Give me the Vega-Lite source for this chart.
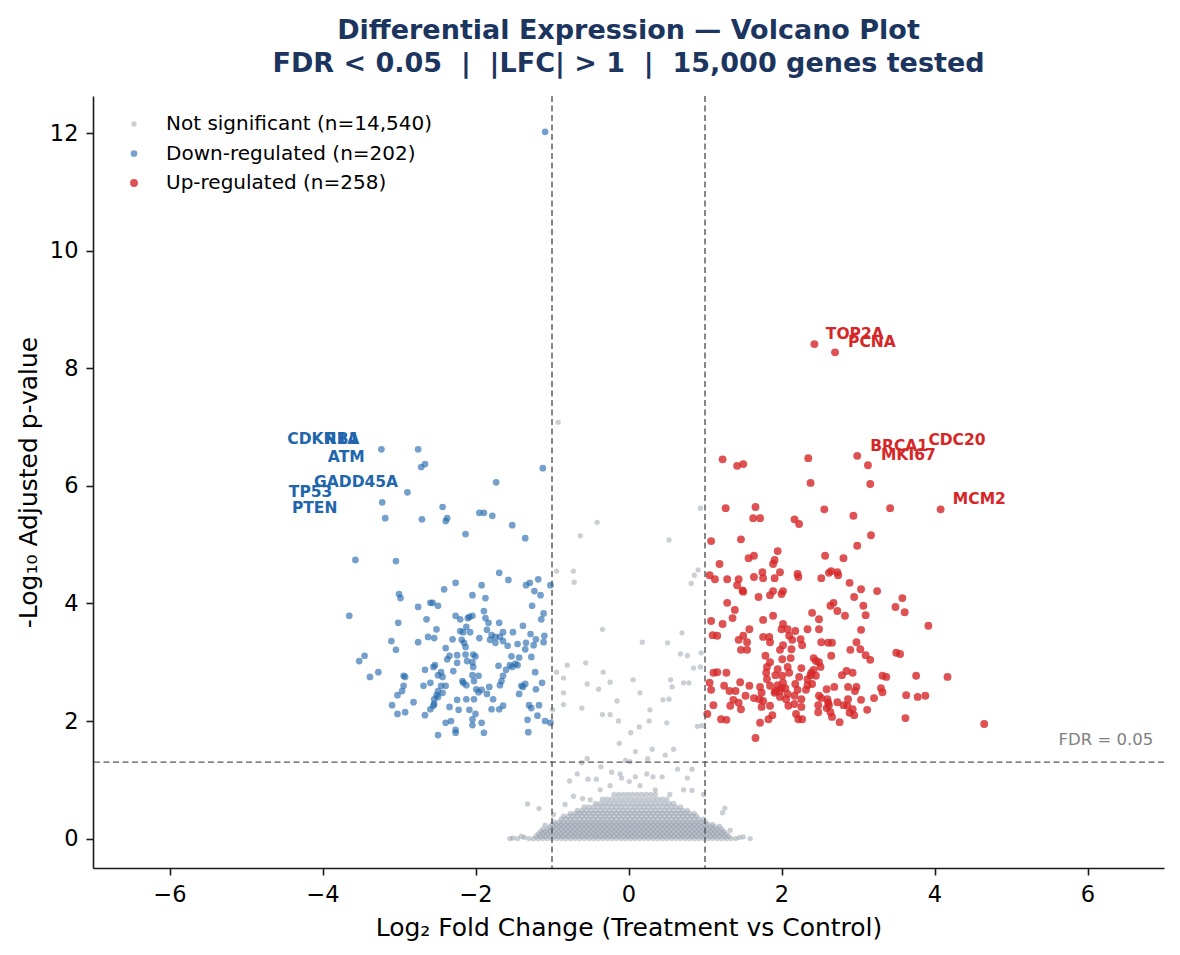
{
"$schema":"https://vega.github.io/schema/vega-lite/v6.json",
"width":1071,"height":772,
"autosize":{"type":"none"},
"padding":{"left":93,"top":96,"right":16,"bottom":87},
"background":"white",
"config":{"view":{"stroke":null},"font":"DejaVu Sans",
"axis":{"grid":false,"domainColor":"#1a1a1a","domainWidth":1.6,"tickColor":"#1a1a1a","tickWidth":1.6,"tickSize":7,"labelColor":"#000","labelFont":"DejaVu Sans","labelFontSize":22.5,"labelPadding":8,"titleColor":"#000","titleFont":"DejaVu Sans","titleFontSize":25,"titleFontWeight":"normal"},
"legend":{"title":null,"labelFont":"DejaVu Sans","labelFontSize":20,"labelColor":"#000","padding":0,"symbolType":"circle","symbolStrokeWidth":0,"labelLimit":500}},
"title":{"text":["Differential Expression — Volcano Plot","FDR < 0.05 \u00a0|\u00a0 |LFC| > 1 \u00a0|\u00a0 15,000 genes tested"],"font":"DejaVu Sans","fontSize":27,"fontWeight":"bold","color":"#1c355e","lineHeight":33,"anchor":"middle","frame":"group","offset":17},
"datasets":{
"labD":[
{"x":-4.46,"y":6.8,"gene":"CDKN1A"},{"x":-3.97,"y":6.8,"gene":"RB1"},{"x":-3.93,"y":6.49,"gene":"ATM"},{"x":-4.11,"y":6.07,"gene":"GADD45A"},{"x":-4.44,"y":5.9,"gene":"TP53"},{"x":-4.4,"y":5.63,"gene":"PTEN"}],
"labU":[
{"x":2.58,"y":8.58,"gene":"TOP2A"},{"x":2.87,"y":8.45,"gene":"PCNA"},{"x":3.16,"y":6.68,"gene":"BRCA1"},{"x":3.92,"y":6.78,"gene":"CDC20"},{"x":3.3,"y":6.53,"gene":"MKI67"},{"x":4.24,"y":5.78,"gene":"MCM2"}
],
"pts":[
{"x":-1.30,"y":0,"g":"n"},{"x":-1.24,"y":0,"g":"n"},{"x":-1.18,"y":0,"g":"n"},{"x":-1.12,"y":0,"g":"n"},{"x":-1.06,"y":0,"g":"n"},{"x":-1.00,"y":0,"g":"n"},{"x":-0.94,"y":0,"g":"n"},{"x":-0.88,"y":0,"g":"n"},{"x":-0.82,"y":0,"g":"n"},{"x":-0.76,"y":0,"g":"n"},{"x":-0.70,"y":0,"g":"n"},{"x":-0.64,"y":0,"g":"n"},{"x":-0.58,"y":0,"g":"n"},{"x":-0.52,"y":0,"g":"n"},{"x":-0.46,"y":0,"g":"n"},{"x":-0.40,"y":0,"g":"n"},{"x":-0.34,"y":0,"g":"n"},{"x":-0.28,"y":0,"g":"n"},{"x":-0.22,"y":0,"g":"n"},{"x":-0.16,"y":0,"g":"n"},{"x":-0.10,"y":0,"g":"n"},{"x":-0.04,"y":0,"g":"n"},{"x":0.02,"y":0,"g":"n"},{"x":0.08,"y":0,"g":"n"},{"x":0.14,"y":0,"g":"n"},{"x":0.20,"y":0,"g":"n"},{"x":0.26,"y":0,"g":"n"},{"x":0.32,"y":0,"g":"n"},{"x":0.38,"y":0,"g":"n"},{"x":0.44,"y":0,"g":"n"},{"x":0.50,"y":0,"g":"n"},{"x":0.56,"y":0,"g":"n"},{"x":0.62,"y":0,"g":"n"},{"x":0.68,"y":0,"g":"n"},{"x":0.74,"y":0,"g":"n"},{"x":0.80,"y":0,"g":"n"},{"x":0.86,"y":0,"g":"n"},{"x":0.92,"y":0,"g":"n"},{"x":0.98,"y":0,"g":"n"},{"x":1.04,"y":0,"g":"n"},{"x":1.10,"y":0,"g":"n"},{"x":1.16,"y":0,"g":"n"},{"x":1.22,"y":0,"g":"n"},{"x":1.28,"y":0,"g":"n"},{"x":1.34,"y":0,"g":"n"},{"x":1.40,"y":0,"g":"n"},
{"x":-1.21,"y":0.04,"g":"n"},{"x":-1.15,"y":0.04,"g":"n"},{"x":-1.09,"y":0.04,"g":"n"},{"x":-1.03,"y":0.04,"g":"n"},{"x":-0.97,"y":0.04,"g":"n"},{"x":-0.91,"y":0.04,"g":"n"},{"x":-0.85,"y":0.04,"g":"n"},{"x":-0.79,"y":0.04,"g":"n"},{"x":-0.73,"y":0.04,"g":"n"},{"x":-0.67,"y":0.04,"g":"n"},{"x":-0.61,"y":0.04,"g":"n"},{"x":-0.55,"y":0.04,"g":"n"},{"x":-0.49,"y":0.04,"g":"n"},{"x":-0.43,"y":0.04,"g":"n"},{"x":-0.37,"y":0.04,"g":"n"},{"x":-0.31,"y":0.04,"g":"n"},{"x":-0.25,"y":0.04,"g":"n"},{"x":-0.19,"y":0.04,"g":"n"},{"x":-0.13,"y":0.04,"g":"n"},{"x":-0.07,"y":0.04,"g":"n"},{"x":-0.01,"y":0.04,"g":"n"},{"x":0.05,"y":0.04,"g":"n"},{"x":0.11,"y":0.04,"g":"n"},{"x":0.17,"y":0.04,"g":"n"},{"x":0.23,"y":0.04,"g":"n"},{"x":0.29,"y":0.04,"g":"n"},{"x":0.35,"y":0.04,"g":"n"},{"x":0.41,"y":0.04,"g":"n"},{"x":0.47,"y":0.04,"g":"n"},{"x":0.53,"y":0.04,"g":"n"},{"x":0.59,"y":0.04,"g":"n"},{"x":0.65,"y":0.04,"g":"n"},{"x":0.71,"y":0.04,"g":"n"},{"x":0.77,"y":0.04,"g":"n"},{"x":0.83,"y":0.04,"g":"n"},{"x":0.89,"y":0.04,"g":"n"},{"x":0.95,"y":0.04,"g":"n"},{"x":1.01,"y":0.04,"g":"n"},{"x":1.07,"y":0.04,"g":"n"},{"x":1.13,"y":0.04,"g":"n"},{"x":1.19,"y":0.04,"g":"n"},{"x":1.25,"y":0.04,"g":"n"},{"x":1.31,"y":0.04,"g":"n"},
{"x":-1.18,"y":0.08,"g":"n"},{"x":-1.12,"y":0.08,"g":"n"},{"x":-1.06,"y":0.08,"g":"n"},{"x":-1.00,"y":0.08,"g":"n"},{"x":-0.94,"y":0.08,"g":"n"},{"x":-0.88,"y":0.08,"g":"n"},{"x":-0.82,"y":0.08,"g":"n"},{"x":-0.76,"y":0.08,"g":"n"},{"x":-0.70,"y":0.08,"g":"n"},{"x":-0.64,"y":0.08,"g":"n"},{"x":-0.58,"y":0.08,"g":"n"},{"x":-0.52,"y":0.08,"g":"n"},{"x":-0.46,"y":0.08,"g":"n"},{"x":-0.40,"y":0.08,"g":"n"},{"x":-0.34,"y":0.08,"g":"n"},{"x":-0.28,"y":0.08,"g":"n"},{"x":-0.22,"y":0.08,"g":"n"},{"x":-0.16,"y":0.08,"g":"n"},{"x":-0.10,"y":0.08,"g":"n"},{"x":-0.04,"y":0.08,"g":"n"},{"x":0.02,"y":0.08,"g":"n"},{"x":0.08,"y":0.08,"g":"n"},{"x":0.14,"y":0.08,"g":"n"},{"x":0.20,"y":0.08,"g":"n"},{"x":0.26,"y":0.08,"g":"n"},{"x":0.32,"y":0.08,"g":"n"},{"x":0.38,"y":0.08,"g":"n"},{"x":0.44,"y":0.08,"g":"n"},{"x":0.50,"y":0.08,"g":"n"},{"x":0.56,"y":0.08,"g":"n"},{"x":0.62,"y":0.08,"g":"n"},{"x":0.68,"y":0.08,"g":"n"},{"x":0.74,"y":0.08,"g":"n"},{"x":0.80,"y":0.08,"g":"n"},{"x":0.86,"y":0.08,"g":"n"},{"x":0.92,"y":0.08,"g":"n"},{"x":0.98,"y":0.08,"g":"n"},{"x":1.04,"y":0.08,"g":"n"},{"x":1.10,"y":0.08,"g":"n"},{"x":1.16,"y":0.08,"g":"n"},{"x":1.22,"y":0.08,"g":"n"},{"x":1.28,"y":0.08,"g":"n"},
{"x":-1.15,"y":0.12,"g":"n"},{"x":-1.09,"y":0.12,"g":"n"},{"x":-1.03,"y":0.12,"g":"n"},{"x":-0.97,"y":0.12,"g":"n"},{"x":-0.91,"y":0.12,"g":"n"},{"x":-0.85,"y":0.12,"g":"n"},{"x":-0.79,"y":0.12,"g":"n"},{"x":-0.73,"y":0.12,"g":"n"},{"x":-0.67,"y":0.12,"g":"n"},{"x":-0.61,"y":0.12,"g":"n"},{"x":-0.55,"y":0.12,"g":"n"},{"x":-0.49,"y":0.12,"g":"n"},{"x":-0.43,"y":0.12,"g":"n"},{"x":-0.37,"y":0.12,"g":"n"},{"x":-0.31,"y":0.12,"g":"n"},{"x":-0.25,"y":0.12,"g":"n"},{"x":-0.19,"y":0.12,"g":"n"},{"x":-0.13,"y":0.12,"g":"n"},{"x":-0.07,"y":0.12,"g":"n"},{"x":-0.01,"y":0.12,"g":"n"},{"x":0.05,"y":0.12,"g":"n"},{"x":0.11,"y":0.12,"g":"n"},{"x":0.17,"y":0.12,"g":"n"},{"x":0.23,"y":0.12,"g":"n"},{"x":0.29,"y":0.12,"g":"n"},{"x":0.35,"y":0.12,"g":"n"},{"x":0.41,"y":0.12,"g":"n"},{"x":0.47,"y":0.12,"g":"n"},{"x":0.53,"y":0.12,"g":"n"},{"x":0.59,"y":0.12,"g":"n"},{"x":0.65,"y":0.12,"g":"n"},{"x":0.71,"y":0.12,"g":"n"},{"x":0.77,"y":0.12,"g":"n"},{"x":0.83,"y":0.12,"g":"n"},{"x":0.89,"y":0.12,"g":"n"},{"x":0.95,"y":0.12,"g":"n"},{"x":1.01,"y":0.12,"g":"n"},{"x":1.07,"y":0.12,"g":"n"},{"x":1.13,"y":0.12,"g":"n"},{"x":1.19,"y":0.12,"g":"n"},{"x":1.25,"y":0.12,"g":"n"},
{"x":-1.12,"y":0.16,"g":"n"},{"x":-1.06,"y":0.16,"g":"n"},{"x":-1.00,"y":0.16,"g":"n"},{"x":-0.94,"y":0.16,"g":"n"},{"x":-0.88,"y":0.16,"g":"n"},{"x":-0.82,"y":0.16,"g":"n"},{"x":-0.76,"y":0.16,"g":"n"},{"x":-0.70,"y":0.16,"g":"n"},{"x":-0.64,"y":0.16,"g":"n"},{"x":-0.58,"y":0.16,"g":"n"},{"x":-0.52,"y":0.16,"g":"n"},{"x":-0.46,"y":0.16,"g":"n"},{"x":-0.40,"y":0.16,"g":"n"},{"x":-0.34,"y":0.16,"g":"n"},{"x":-0.28,"y":0.16,"g":"n"},{"x":-0.22,"y":0.16,"g":"n"},{"x":-0.16,"y":0.16,"g":"n"},{"x":-0.10,"y":0.16,"g":"n"},{"x":-0.04,"y":0.16,"g":"n"},{"x":0.02,"y":0.16,"g":"n"},{"x":0.08,"y":0.16,"g":"n"},{"x":0.14,"y":0.16,"g":"n"},{"x":0.20,"y":0.16,"g":"n"},{"x":0.26,"y":0.16,"g":"n"},{"x":0.32,"y":0.16,"g":"n"},{"x":0.38,"y":0.16,"g":"n"},{"x":0.44,"y":0.16,"g":"n"},{"x":0.50,"y":0.16,"g":"n"},{"x":0.56,"y":0.16,"g":"n"},{"x":0.62,"y":0.16,"g":"n"},{"x":0.68,"y":0.16,"g":"n"},{"x":0.74,"y":0.16,"g":"n"},{"x":0.80,"y":0.16,"g":"n"},{"x":0.86,"y":0.16,"g":"n"},{"x":0.92,"y":0.16,"g":"n"},{"x":0.98,"y":0.16,"g":"n"},{"x":1.04,"y":0.16,"g":"n"},{"x":1.10,"y":0.16,"g":"n"},{"x":1.16,"y":0.16,"g":"n"},{"x":1.22,"y":0.16,"g":"n"},
{"x":-1.03,"y":0.2,"g":"n"},{"x":-0.97,"y":0.2,"g":"n"},{"x":-0.91,"y":0.2,"g":"n"},{"x":-0.85,"y":0.2,"g":"n"},{"x":-0.79,"y":0.2,"g":"n"},{"x":-0.73,"y":0.2,"g":"n"},{"x":-0.67,"y":0.2,"g":"n"},{"x":-0.61,"y":0.2,"g":"n"},{"x":-0.55,"y":0.2,"g":"n"},{"x":-0.49,"y":0.2,"g":"n"},{"x":-0.43,"y":0.2,"g":"n"},{"x":-0.37,"y":0.2,"g":"n"},{"x":-0.31,"y":0.2,"g":"n"},{"x":-0.25,"y":0.2,"g":"n"},{"x":-0.19,"y":0.2,"g":"n"},{"x":-0.13,"y":0.2,"g":"n"},{"x":-0.07,"y":0.2,"g":"n"},{"x":-0.01,"y":0.2,"g":"n"},{"x":0.05,"y":0.2,"g":"n"},{"x":0.11,"y":0.2,"g":"n"},{"x":0.17,"y":0.2,"g":"n"},{"x":0.23,"y":0.2,"g":"n"},{"x":0.29,"y":0.2,"g":"n"},{"x":0.35,"y":0.2,"g":"n"},{"x":0.41,"y":0.2,"g":"n"},{"x":0.47,"y":0.2,"g":"n"},{"x":0.53,"y":0.2,"g":"n"},{"x":0.59,"y":0.2,"g":"n"},{"x":0.65,"y":0.2,"g":"n"},{"x":0.71,"y":0.2,"g":"n"},{"x":0.77,"y":0.2,"g":"n"},{"x":0.83,"y":0.2,"g":"n"},{"x":0.89,"y":0.2,"g":"n"},{"x":0.95,"y":0.2,"g":"n"},{"x":1.01,"y":0.2,"g":"n"},{"x":1.07,"y":0.2,"g":"n"},{"x":1.13,"y":0.2,"g":"n"},
{"x":-1.00,"y":0.24,"g":"n"},{"x":-0.94,"y":0.24,"g":"n"},{"x":-0.88,"y":0.24,"g":"n"},{"x":-0.82,"y":0.24,"g":"n"},{"x":-0.76,"y":0.24,"g":"n"},{"x":-0.70,"y":0.24,"g":"n"},{"x":-0.64,"y":0.24,"g":"n"},{"x":-0.58,"y":0.24,"g":"n"},{"x":-0.52,"y":0.24,"g":"n"},{"x":-0.46,"y":0.24,"g":"n"},{"x":-0.40,"y":0.24,"g":"n"},{"x":-0.34,"y":0.24,"g":"n"},{"x":-0.28,"y":0.24,"g":"n"},{"x":-0.22,"y":0.24,"g":"n"},{"x":-0.16,"y":0.24,"g":"n"},{"x":-0.10,"y":0.24,"g":"n"},{"x":-0.04,"y":0.24,"g":"n"},{"x":0.02,"y":0.24,"g":"n"},{"x":0.08,"y":0.24,"g":"n"},{"x":0.14,"y":0.24,"g":"n"},{"x":0.20,"y":0.24,"g":"n"},{"x":0.26,"y":0.24,"g":"n"},{"x":0.32,"y":0.24,"g":"n"},{"x":0.38,"y":0.24,"g":"n"},{"x":0.44,"y":0.24,"g":"n"},{"x":0.50,"y":0.24,"g":"n"},{"x":0.56,"y":0.24,"g":"n"},{"x":0.62,"y":0.24,"g":"n"},{"x":0.68,"y":0.24,"g":"n"},{"x":0.74,"y":0.24,"g":"n"},{"x":0.80,"y":0.24,"g":"n"},{"x":0.86,"y":0.24,"g":"n"},{"x":0.92,"y":0.24,"g":"n"},{"x":0.98,"y":0.24,"g":"n"},{"x":1.04,"y":0.24,"g":"n"},{"x":1.10,"y":0.24,"g":"n"},
{"x":-0.97,"y":0.28,"g":"n"},{"x":-0.91,"y":0.28,"g":"n"},{"x":-0.85,"y":0.28,"g":"n"},{"x":-0.79,"y":0.28,"g":"n"},{"x":-0.73,"y":0.28,"g":"n"},{"x":-0.67,"y":0.28,"g":"n"},{"x":-0.61,"y":0.28,"g":"n"},{"x":-0.55,"y":0.28,"g":"n"},{"x":-0.49,"y":0.28,"g":"n"},{"x":-0.43,"y":0.28,"g":"n"},{"x":-0.37,"y":0.28,"g":"n"},{"x":-0.31,"y":0.28,"g":"n"},{"x":-0.25,"y":0.28,"g":"n"},{"x":-0.19,"y":0.28,"g":"n"},{"x":-0.13,"y":0.28,"g":"n"},{"x":-0.07,"y":0.28,"g":"n"},{"x":-0.01,"y":0.28,"g":"n"},{"x":0.05,"y":0.28,"g":"n"},{"x":0.11,"y":0.28,"g":"n"},{"x":0.17,"y":0.28,"g":"n"},{"x":0.23,"y":0.28,"g":"n"},{"x":0.29,"y":0.28,"g":"n"},{"x":0.35,"y":0.28,"g":"n"},{"x":0.41,"y":0.28,"g":"n"},{"x":0.47,"y":0.28,"g":"n"},{"x":0.53,"y":0.28,"g":"n"},{"x":0.59,"y":0.28,"g":"n"},{"x":0.65,"y":0.28,"g":"n"},{"x":0.71,"y":0.28,"g":"n"},{"x":0.77,"y":0.28,"g":"n"},{"x":0.83,"y":0.28,"g":"n"},{"x":0.89,"y":0.28,"g":"n"},{"x":0.95,"y":0.28,"g":"n"},{"x":1.01,"y":0.28,"g":"n"},
{"x":-0.88,"y":0.33,"g":"n"},{"x":-0.82,"y":0.33,"g":"n"},{"x":-0.76,"y":0.33,"g":"n"},{"x":-0.70,"y":0.33,"g":"n"},{"x":-0.64,"y":0.33,"g":"n"},{"x":-0.58,"y":0.33,"g":"n"},{"x":-0.52,"y":0.33,"g":"n"},{"x":-0.46,"y":0.33,"g":"n"},{"x":-0.40,"y":0.33,"g":"n"},{"x":-0.34,"y":0.33,"g":"n"},{"x":-0.28,"y":0.33,"g":"n"},{"x":-0.22,"y":0.33,"g":"n"},{"x":-0.16,"y":0.33,"g":"n"},{"x":-0.10,"y":0.33,"g":"n"},{"x":-0.04,"y":0.33,"g":"n"},{"x":0.02,"y":0.33,"g":"n"},{"x":0.08,"y":0.33,"g":"n"},{"x":0.14,"y":0.33,"g":"n"},{"x":0.20,"y":0.33,"g":"n"},{"x":0.26,"y":0.33,"g":"n"},{"x":0.32,"y":0.33,"g":"n"},{"x":0.38,"y":0.33,"g":"n"},{"x":0.44,"y":0.33,"g":"n"},{"x":0.50,"y":0.33,"g":"n"},{"x":0.56,"y":0.33,"g":"n"},{"x":0.62,"y":0.33,"g":"n"},{"x":0.68,"y":0.33,"g":"n"},{"x":0.74,"y":0.33,"g":"n"},{"x":0.80,"y":0.33,"g":"n"},{"x":0.86,"y":0.33,"g":"n"},{"x":0.92,"y":0.33,"g":"n"},{"x":0.98,"y":0.33,"g":"n"},
{"x":-0.85,"y":0.38,"g":"n"},{"x":-0.79,"y":0.38,"g":"n"},{"x":-0.73,"y":0.38,"g":"n"},{"x":-0.67,"y":0.38,"g":"n"},{"x":-0.61,"y":0.38,"g":"n"},{"x":-0.55,"y":0.38,"g":"n"},{"x":-0.49,"y":0.38,"g":"n"},{"x":-0.43,"y":0.38,"g":"n"},{"x":-0.37,"y":0.38,"g":"n"},{"x":-0.31,"y":0.38,"g":"n"},{"x":-0.25,"y":0.38,"g":"n"},{"x":-0.19,"y":0.38,"g":"n"},{"x":-0.13,"y":0.38,"g":"n"},{"x":-0.07,"y":0.38,"g":"n"},{"x":-0.01,"y":0.38,"g":"n"},{"x":0.05,"y":0.38,"g":"n"},{"x":0.11,"y":0.38,"g":"n"},{"x":0.17,"y":0.38,"g":"n"},{"x":0.23,"y":0.38,"g":"n"},{"x":0.29,"y":0.38,"g":"n"},{"x":0.35,"y":0.38,"g":"n"},{"x":0.41,"y":0.38,"g":"n"},{"x":0.47,"y":0.38,"g":"n"},{"x":0.53,"y":0.38,"g":"n"},{"x":0.59,"y":0.38,"g":"n"},{"x":0.65,"y":0.38,"g":"n"},{"x":0.71,"y":0.38,"g":"n"},{"x":0.77,"y":0.38,"g":"n"},{"x":0.83,"y":0.38,"g":"n"},{"x":0.89,"y":0.38,"g":"n"},
{"x":-0.76,"y":0.43,"g":"n"},{"x":-0.70,"y":0.43,"g":"n"},{"x":-0.64,"y":0.43,"g":"n"},{"x":-0.58,"y":0.43,"g":"n"},{"x":-0.52,"y":0.43,"g":"n"},{"x":-0.46,"y":0.43,"g":"n"},{"x":-0.40,"y":0.43,"g":"n"},{"x":-0.34,"y":0.43,"g":"n"},{"x":-0.28,"y":0.43,"g":"n"},{"x":-0.22,"y":0.43,"g":"n"},{"x":-0.16,"y":0.43,"g":"n"},{"x":-0.10,"y":0.43,"g":"n"},{"x":-0.04,"y":0.43,"g":"n"},{"x":0.02,"y":0.43,"g":"n"},{"x":0.08,"y":0.43,"g":"n"},{"x":0.14,"y":0.43,"g":"n"},{"x":0.20,"y":0.43,"g":"n"},{"x":0.26,"y":0.43,"g":"n"},{"x":0.32,"y":0.43,"g":"n"},{"x":0.38,"y":0.43,"g":"n"},{"x":0.44,"y":0.43,"g":"n"},{"x":0.50,"y":0.43,"g":"n"},{"x":0.56,"y":0.43,"g":"n"},{"x":0.62,"y":0.43,"g":"n"},{"x":0.68,"y":0.43,"g":"n"},{"x":0.74,"y":0.43,"g":"n"},{"x":0.80,"y":0.43,"g":"n"},{"x":0.86,"y":0.43,"g":"n"},
{"x":-0.67,"y":0.48,"g":"n"},{"x":-0.61,"y":0.48,"g":"n"},{"x":-0.55,"y":0.48,"g":"n"},{"x":-0.49,"y":0.48,"g":"n"},{"x":-0.43,"y":0.48,"g":"n"},{"x":-0.37,"y":0.48,"g":"n"},{"x":-0.31,"y":0.48,"g":"n"},{"x":-0.25,"y":0.48,"g":"n"},{"x":-0.19,"y":0.48,"g":"n"},{"x":-0.13,"y":0.48,"g":"n"},{"x":-0.07,"y":0.48,"g":"n"},{"x":-0.01,"y":0.48,"g":"n"},{"x":0.05,"y":0.48,"g":"n"},{"x":0.11,"y":0.48,"g":"n"},{"x":0.17,"y":0.48,"g":"n"},{"x":0.23,"y":0.48,"g":"n"},{"x":0.29,"y":0.48,"g":"n"},{"x":0.35,"y":0.48,"g":"n"},{"x":0.41,"y":0.48,"g":"n"},{"x":0.47,"y":0.48,"g":"n"},{"x":0.53,"y":0.48,"g":"n"},{"x":0.59,"y":0.48,"g":"n"},{"x":0.65,"y":0.48,"g":"n"},{"x":0.71,"y":0.48,"g":"n"},{"x":0.77,"y":0.48,"g":"n"},
{"x":-0.58,"y":0.54,"g":"n"},{"x":-0.52,"y":0.54,"g":"n"},{"x":-0.46,"y":0.54,"g":"n"},{"x":-0.40,"y":0.54,"g":"n"},{"x":-0.34,"y":0.54,"g":"n"},{"x":-0.28,"y":0.54,"g":"n"},{"x":-0.22,"y":0.54,"g":"n"},{"x":-0.16,"y":0.54,"g":"n"},{"x":-0.10,"y":0.54,"g":"n"},{"x":-0.04,"y":0.54,"g":"n"},{"x":0.02,"y":0.54,"g":"n"},{"x":0.08,"y":0.54,"g":"n"},{"x":0.14,"y":0.54,"g":"n"},{"x":0.20,"y":0.54,"g":"n"},{"x":0.26,"y":0.54,"g":"n"},{"x":0.32,"y":0.54,"g":"n"},{"x":0.38,"y":0.54,"g":"n"},{"x":0.44,"y":0.54,"g":"n"},{"x":0.50,"y":0.54,"g":"n"},{"x":0.56,"y":0.54,"g":"n"},{"x":0.62,"y":0.54,"g":"n"},{"x":0.68,"y":0.54,"g":"n"},
{"x":-0.43,"y":0.6,"g":"n"},{"x":-0.37,"y":0.6,"g":"n"},{"x":-0.31,"y":0.6,"g":"n"},{"x":-0.25,"y":0.6,"g":"n"},{"x":-0.19,"y":0.6,"g":"n"},{"x":-0.13,"y":0.6,"g":"n"},{"x":-0.07,"y":0.6,"g":"n"},{"x":-0.01,"y":0.6,"g":"n"},{"x":0.05,"y":0.6,"g":"n"},{"x":0.11,"y":0.6,"g":"n"},{"x":0.17,"y":0.6,"g":"n"},{"x":0.23,"y":0.6,"g":"n"},{"x":0.29,"y":0.6,"g":"n"},{"x":0.35,"y":0.6,"g":"n"},{"x":0.41,"y":0.6,"g":"n"},{"x":0.47,"y":0.6,"g":"n"},{"x":0.53,"y":0.6,"g":"n"},{"x":0.59,"y":0.6,"g":"n"},
{"x":-0.34,"y":0.67,"g":"n"},{"x":-0.28,"y":0.67,"g":"n"},{"x":-0.22,"y":0.67,"g":"n"},{"x":-0.16,"y":0.67,"g":"n"},{"x":-0.10,"y":0.67,"g":"n"},{"x":-0.04,"y":0.67,"g":"n"},{"x":0.02,"y":0.67,"g":"n"},{"x":0.08,"y":0.67,"g":"n"},{"x":0.14,"y":0.67,"g":"n"},{"x":0.20,"y":0.67,"g":"n"},{"x":0.26,"y":0.67,"g":"n"},{"x":0.32,"y":0.67,"g":"n"},{"x":0.38,"y":0.67,"g":"n"},{"x":0.44,"y":0.67,"g":"n"},{"x":0.50,"y":0.67,"g":"n"},
{"x":-0.19,"y":0.75,"g":"n"},{"x":-0.13,"y":0.75,"g":"n"},{"x":-0.07,"y":0.75,"g":"n"},{"x":-0.01,"y":0.75,"g":"n"},{"x":0.05,"y":0.75,"g":"n"},{"x":0.11,"y":0.75,"g":"n"},{"x":0.17,"y":0.75,"g":"n"},{"x":0.23,"y":0.75,"g":"n"},{"x":0.29,"y":0.75,"g":"n"},{"x":0.35,"y":0.75,"g":"n"},
{"x":-1.55,"y":0,"g":"n"},{"x":-1.51,"y":0.01,"g":"n"},{"x":-1.45,"y":0,"g":"n"},{"x":-1.40,"y":0.04,"g":"n"},{"x":-1.36,"y":0.02,"g":"n"},{"x":1.45,"y":0.02,"g":"n"},{"x":1.50,"y":0.03,"g":"n"},{"x":1.59,"y":0,"g":"n"},
{"x":-0.92,"y":7.08,"g":"n"},{"x":-0.41,"y":5.38,"g":"n"},{"x":-0.63,"y":5.15,"g":"n"},{"x":0.53,"y":5.08,"g":"n"},{"x":-0.94,"y":4.55,"g":"n"},{"x":-0.72,"y":4.55,"g":"n"},{"x":-0.71,"y":4.36,"g":"n"},{"x":0.94,"y":5.62,"g":"n"},{"x":0.91,"y":4.57,"g":"n"},{"x":0.86,"y":4.48,"g":"n"},{"x":0.82,"y":4.34,"g":"n"},{"x":-0.34,"y":3.56,"g":"n"},{"x":0.18,"y":3.34,"g":"n"},{"x":0.51,"y":3.33,"g":"n"},{"x":0.70,"y":3.50,"g":"n"},{"x":0.68,"y":3.14,"g":"n"},{"x":0.77,"y":3.11,"g":"n"},{"x":0.95,"y":3.16,"g":"n"},{"x":0.85,"y":2.90,"g":"n"},{"x":0.94,"y":2.92,"g":"n"},{"x":-0.80,"y":2.95,"g":"n"},{"x":-0.56,"y":2.99,"g":"n"},{"x":-0.94,"y":2.83,"g":"n"},{"x":-0.85,"y":2.73,"g":"n"},{"x":-0.85,"y":2.48,"g":"n"},{"x":-0.33,"y":2.83,"g":"n"},{"x":-0.54,"y":2.63,"g":"n"},{"x":-0.39,"y":2.54,"g":"n"},{"x":-0.24,"y":2.66,"g":"n"},{"x":0.06,"y":2.70,"g":"n"},{"x":0.15,"y":2.48,"g":"n"},{"x":0.55,"y":2.70,"g":"n"},{"x":0.57,"y":2.58,"g":"n"},{"x":0.72,"y":2.65,"g":"n"},{"x":0.79,"y":2.65,"g":"n"},{"x":-0.85,"y":2.28,"g":"n"},{"x":-0.61,"y":2.22,"g":"n"},{"x":-0.15,"y":2.34,"g":"n"},{"x":-0.34,"y":2.11,"g":"n"},{"x":-0.24,"y":2.11,"g":"n"},{"x":-0.13,"y":2.00,"g":"n"},{"x":0.28,"y":2.19,"g":"n"},{"x":0.45,"y":2.36,"g":"n"},{"x":0.53,"y":2.37,"g":"n"},{"x":0.27,"y":2.00,"g":"n"},{"x":0.50,"y":1.97,"g":"n"},{"x":0.14,"y":1.90,"g":"n"},{"x":0.03,"y":1.80,"g":"n"},{"x":-0.12,"y":1.62,"g":"n"},{"x":0.90,"y":1.91,"g":"n"},{"x":0.96,"y":1.92,"g":"n"},{"x":0.09,"y":1.48,"g":"n"},{"x":0.31,"y":1.52,"g":"n"},{"x":0.48,"y":1.42,"g":"n"},{"x":0.59,"y":1.52,"g":"n"},{"x":0.25,"y":1.36,"g":"n"},{"x":-0.04,"y":1.33,"g":"n"},{"x":0.02,"y":1.31,"g":"n"},{"x":-0.54,"y":1.36,"g":"n"},{"x":-0.61,"y":1.29,"g":"n"},{"x":-0.99,"y":2.19,"g":"n"},
{"x":-0.36,"y":1.22,"g":"n"},{"x":-0.67,"y":1.10,"g":"n"},{"x":-0.53,"y":1.01,"g":"n"},{"x":-0.42,"y":1.01,"g":"n"},{"x":-0.77,"y":0.98,"g":"n"},{"x":-0.72,"y":0.72,"g":"n"},{"x":-0.60,"y":0.68,"g":"n"},{"x":-1.32,"y":0.59,"g":"n"},{"x":-1.17,"y":0.51,"g":"n"},{"x":-0.98,"y":0.41,"g":"n"},{"x":-0.22,"y":1.13,"g":"n"},{"x":-0.11,"y":1.10,"g":"n"},{"x":-0.09,"y":1.03,"g":"n"},{"x":0.01,"y":0.97,"g":"n"},{"x":0.09,"y":1.05,"g":"n"},{"x":0.24,"y":1.10,"g":"n"},{"x":0.32,"y":1.05,"g":"n"},{"x":0.44,"y":1.05,"g":"n"},{"x":0.64,"y":1.18,"g":"n"},{"x":0.83,"y":1.18,"g":"n"},{"x":0.77,"y":1.03,"g":"n"},{"x":0.72,"y":0.83,"g":"n"},{"x":0.83,"y":0.82,"g":"n"},{"x":0.98,"y":0.75,"g":"n"},{"x":1.26,"y":0.52,"g":"n"},{"x":1.23,"y":0.44,"g":"n"},{"x":1.19,"y":0.21,"g":"n"},{"x":1.33,"y":0.14,"g":"n"},{"x":-1.09,"y":0.23,"g":"n"},{"x":-0.37,"y":0.83,"g":"n"},{"x":-0.24,"y":0.90,"g":"n"},{"x":0.15,"y":0.90,"g":"n"},{"x":0.35,"y":0.83,"g":"n"},{"x":0.54,"y":0.75,"g":"n"},{"x":-0.50,"y":0.66,"g":"n"},{"x":-0.83,"y":0.58,"g":"n"},
{"x":-1.09,"y":12.02,"g":"d"},{"x":-3.23,"y":6.62,"g":"d"},{"x":-2.75,"y":6.62,"g":"d"},{"x":-2.71,"y":6.32,"g":"d"},{"x":-2.66,"y":6.37,"g":"d"},{"x":-1.12,"y":6.30,"g":"d"},{"x":-1.73,"y":6.06,"g":"d"},{"x":-2.89,"y":5.89,"g":"d"},{"x":-3.22,"y":5.72,"g":"d"},{"x":-2.43,"y":5.64,"g":"d"},{"x":-3.18,"y":5.45,"g":"d"},{"x":-2.70,"y":5.43,"g":"d"},{"x":-2.37,"y":5.45,"g":"d"},{"x":-2.39,"y":5.40,"g":"d"},{"x":-1.95,"y":5.54,"g":"d"},{"x":-1.89,"y":5.54,"g":"d"},{"x":-1.78,"y":5.49,"g":"d"},{"x":-2.13,"y":5.18,"g":"d"},{"x":-1.52,"y":5.33,"g":"d"},{"x":-1.35,"y":5.11,"g":"d"},{"x":-3.57,"y":4.74,"g":"d"},{"x":-3.04,"y":4.72,"g":"d"},{"x":-1.69,"y":4.52,"g":"d"},{"x":-1.57,"y":4.40,"g":"d"},{"x":-1.18,"y":4.41,"g":"d"},{"x":-1.29,"y":4.35,"g":"d"},{"x":-1.34,"y":4.31,"g":"d"},{"x":-1.02,"y":4.31,"g":"d"},{"x":-2.26,"y":4.35,"g":"d"},{"x":-2.41,"y":4.24,"g":"d"},{"x":-1.92,"y":4.31,"g":"d"},{"x":-2.04,"y":4.14,"g":"d"},{"x":-1.87,"y":4.09,"g":"d"},{"x":-1.23,"y":4.21,"g":"d"},{"x":-1.15,"y":4.14,"g":"d"},{"x":-3.00,"y":4.16,"g":"d"},{"x":-2.98,"y":4.09,"g":"d"},{"x":-2.59,"y":4.01,"g":"d"},{"x":-2.56,"y":4.01,"g":"d"},{"x":-2.49,"y":3.96,"g":"d"},{"x":-2.75,"y":3.94,"g":"d"},{"x":-1.26,"y":3.96,"g":"d"},{"x":-1.11,"y":3.83,"g":"d"},{"x":-1.14,"y":3.73,"g":"d"},{"x":-3.65,"y":3.79,"g":"d"},{"x":-3.01,"y":3.67,"g":"d"},{"x":-2.64,"y":3.73,"g":"d"},{"x":-2.26,"y":3.79,"g":"d"},{"x":-2.20,"y":3.73,"g":"d"},{"x":-2.10,"y":3.75,"g":"d"},{"x":-2.08,"y":3.77,"g":"d"},{"x":-2.04,"y":3.79,"g":"d"},{"x":-1.89,"y":3.87,"g":"d"},{"x":-1.87,"y":3.75,"g":"d"},{"x":-1.83,"y":3.67,"g":"d"},{"x":-1.69,"y":3.67,"g":"d"},{"x":-2.51,"y":3.56,"g":"d"},{"x":-2.12,"y":3.60,"g":"d"},{"x":-2.20,"y":3.53,"g":"d"},{"x":-2.16,"y":3.51,"g":"d"},{"x":-2.07,"y":3.51,"g":"d"},{"x":-1.85,"y":3.55,"g":"d"},{"x":-1.79,"y":3.46,"g":"d"},{"x":-1.74,"y":3.43,"g":"d"},{"x":-1.64,"y":3.51,"g":"d"},{"x":-1.68,"y":3.43,"g":"d"},{"x":-1.51,"y":3.51,"g":"d"},{"x":-1.38,"y":3.62,"g":"d"},{"x":-1.28,"y":3.48,"g":"d"},{"x":-1.21,"y":3.39,"g":"d"},{"x":-1.10,"y":3.45,"g":"d"},{"x":-3.10,"y":3.36,"g":"d"},{"x":-3.04,"y":3.21,"g":"d"},{"x":-2.75,"y":3.34,"g":"d"},{"x":-2.62,"y":3.43,"g":"d"},{"x":-2.54,"y":3.41,"g":"d"},{"x":-2.30,"y":3.39,"g":"d"},{"x":-2.18,"y":3.38,"g":"d"},{"x":-2.15,"y":3.33,"g":"d"},{"x":-2.13,"y":3.26,"g":"d"},{"x":-1.95,"y":3.41,"g":"d"},{"x":-1.81,"y":3.38,"g":"d"},{"x":-1.74,"y":3.33,"g":"d"},{"x":-1.64,"y":3.36,"g":"d"},{"x":-1.58,"y":3.28,"g":"d"},{"x":-1.45,"y":3.31,"g":"d"},{"x":-1.35,"y":3.22,"g":"d"},{"x":-1.34,"y":3.33,"g":"d"},{"x":-1.24,"y":3.29,"g":"d"},{"x":-1.11,"y":3.34,"g":"d"},{"x":-2.39,"y":3.24,"g":"d"},{"x":-2.24,"y":3.12,"g":"d"},{"x":-2.34,"y":3.11,"g":"d"},{"x":-2.37,"y":3.05,"g":"d"},{"x":-2.13,"y":3.13,"g":"d"},{"x":-2.03,"y":3.13,"g":"d"},{"x":-2.00,"y":3.10,"g":"d"},{"x":-2.11,"y":3.02,"g":"d"},{"x":-2.04,"y":3.00,"g":"d"},{"x":-2.03,"y":2.92,"g":"d"},{"x":-2.24,"y":2.99,"g":"d"},{"x":-1.53,"y":3.10,"g":"d"},{"x":-1.43,"y":3.08,"g":"d"},{"x":-1.55,"y":2.95,"g":"d"},{"x":-1.48,"y":2.97,"g":"d"},{"x":-1.52,"y":2.92,"g":"d"},{"x":-1.45,"y":2.95,"g":"d"},{"x":-1.27,"y":3.09,"g":"d"},{"x":-3.52,"y":3.02,"g":"d"},{"x":-3.45,"y":3.11,"g":"d"},{"x":-2.55,"y":2.92,"g":"d"},{"x":-2.53,"y":2.95,"g":"d"},{"x":-2.29,"y":2.85,"g":"d"},{"x":-2.66,"y":2.87,"g":"d"},{"x":-1.70,"y":2.94,"g":"d"},{"x":-1.60,"y":2.87,"g":"d"},{"x":-1.64,"y":2.77,"g":"d"},{"x":-1.66,"y":2.68,"g":"d"},{"x":-1.68,"y":2.61,"g":"d"},{"x":-1.22,"y":2.83,"g":"d"},{"x":-3.27,"y":2.83,"g":"d"},{"x":-3.38,"y":2.75,"g":"d"},{"x":-2.94,"y":2.77,"g":"d"},{"x":-2.92,"y":2.75,"g":"d"},{"x":-2.49,"y":2.78,"g":"d"},{"x":-2.45,"y":2.83,"g":"d"},{"x":-2.43,"y":2.75,"g":"d"},{"x":-2.04,"y":2.78,"g":"d"},{"x":-1.96,"y":2.77,"g":"d"},{"x":-2.02,"y":2.68,"g":"d"},{"x":-2.17,"y":2.68,"g":"d"},{"x":-2.16,"y":2.65,"g":"d"},{"x":-2.12,"y":2.61,"g":"d"},{"x":-1.13,"y":2.65,"g":"d"},{"x":-1.21,"y":2.54,"g":"d"},{"x":-1.35,"y":2.63,"g":"d"},{"x":-1.40,"y":2.60,"g":"d"},{"x":-1.38,"y":2.58,"g":"d"},{"x":-1.43,"y":2.46,"g":"d"},{"x":-2.94,"y":2.60,"g":"d"},{"x":-2.96,"y":2.51,"g":"d"},{"x":-3.02,"y":2.44,"g":"d"},{"x":-2.68,"y":2.60,"g":"d"},{"x":-2.59,"y":2.65,"g":"d"},{"x":-2.45,"y":2.60,"g":"d"},{"x":-2.39,"y":2.60,"g":"d"},{"x":-2.49,"y":2.51,"g":"d"},{"x":-2.43,"y":2.48,"g":"d"},{"x":-2.51,"y":2.44,"g":"d"},{"x":-2.49,"y":2.41,"g":"d"},{"x":-2.54,"y":2.37,"g":"d"},{"x":-1.99,"y":2.54,"g":"d"},{"x":-1.92,"y":2.53,"g":"d"},{"x":-1.96,"y":2.49,"g":"d"},{"x":-1.82,"y":2.58,"g":"d"},{"x":-1.85,"y":2.46,"g":"d"},{"x":-1.77,"y":2.37,"g":"d"},{"x":-2.24,"y":2.36,"g":"d"},{"x":-2.12,"y":2.37,"g":"d"},{"x":-2.02,"y":2.37,"g":"d"},{"x":-3.09,"y":2.27,"g":"d"},{"x":-3.02,"y":2.12,"g":"d"},{"x":-2.92,"y":2.15,"g":"d"},{"x":-2.81,"y":2.32,"g":"d"},{"x":-2.66,"y":2.10,"g":"d"},{"x":-2.59,"y":2.20,"g":"d"},{"x":-2.55,"y":2.26,"g":"d"},{"x":-2.54,"y":2.29,"g":"d"},{"x":-2.34,"y":2.24,"g":"d"},{"x":-2.22,"y":2.19,"g":"d"},{"x":-2.08,"y":2.19,"g":"d"},{"x":-2.00,"y":2.12,"g":"d"},{"x":-2.04,"y":2.03,"g":"d"},{"x":-1.79,"y":2.20,"g":"d"},{"x":-1.69,"y":2.20,"g":"d"},{"x":-1.64,"y":2.26,"g":"d"},{"x":-1.30,"y":2.27,"g":"d"},{"x":-1.27,"y":2.22,"g":"d"},{"x":-1.17,"y":2.27,"g":"d"},{"x":-1.19,"y":2.09,"g":"d"},{"x":-1.32,"y":2.02,"g":"d"},{"x":-1.09,"y":2.00,"g":"d"},{"x":-1.02,"y":1.97,"g":"d"},{"x":-2.39,"y":1.97,"g":"d"},{"x":-2.32,"y":2.00,"g":"d"},{"x":-2.26,"y":1.85,"g":"d"},{"x":-2.26,"y":1.80,"g":"d"},{"x":-2.49,"y":1.76,"g":"d"},{"x":-2.04,"y":1.93,"g":"d"},{"x":-1.92,"y":1.97,"g":"d"},{"x":-1.89,"y":1.80,"g":"d"},{"x":-1.31,"y":1.81,"g":"d"},
{"x":2.43,"y":8.41,"g":"u"},{"x":2.70,"y":8.27,"g":"u"},{"x":1.23,"y":6.45,"g":"u"},{"x":1.42,"y":6.34,"g":"u"},{"x":1.50,"y":6.37,"g":"u"},{"x":2.35,"y":6.47,"g":"u"},{"x":2.99,"y":6.51,"g":"u"},{"x":3.13,"y":6.35,"g":"u"},{"x":2.38,"y":6.05,"g":"u"},{"x":3.16,"y":6.03,"g":"u"},{"x":1.27,"y":5.62,"g":"u"},{"x":1.66,"y":5.64,"g":"u"},{"x":1.63,"y":5.45,"g":"u"},{"x":1.72,"y":5.45,"g":"u"},{"x":2.56,"y":5.60,"g":"u"},{"x":2.94,"y":5.49,"g":"u"},{"x":3.42,"y":5.62,"g":"u"},{"x":4.08,"y":5.60,"g":"u"},{"x":2.17,"y":5.43,"g":"u"},{"x":2.23,"y":5.35,"g":"u"},{"x":1.08,"y":5.06,"g":"u"},{"x":1.47,"y":5.09,"g":"u"},{"x":3.17,"y":5.16,"g":"u"},{"x":2.99,"y":4.98,"g":"u"},{"x":1.95,"y":4.89,"g":"u"},{"x":1.57,"y":4.77,"g":"u"},{"x":1.64,"y":4.81,"g":"u"},{"x":1.91,"y":4.74,"g":"u"},{"x":1.89,"y":4.67,"g":"u"},{"x":2.57,"y":4.81,"g":"u"},{"x":2.81,"y":4.77,"g":"u"},{"x":1.19,"y":4.67,"g":"u"},{"x":1.06,"y":4.48,"g":"u"},{"x":1.13,"y":4.41,"g":"u"},{"x":1.29,"y":4.41,"g":"u"},{"x":1.44,"y":4.41,"g":"u"},{"x":1.42,"y":4.31,"g":"u"},{"x":1.49,"y":4.22,"g":"u"},{"x":1.50,"y":4.20,"g":"u"},{"x":1.64,"y":4.45,"g":"u"},{"x":1.75,"y":4.53,"g":"u"},{"x":1.76,"y":4.43,"g":"u"},{"x":1.91,"y":4.43,"g":"u"},{"x":1.98,"y":4.53,"g":"u"},{"x":2.21,"y":4.50,"g":"u"},{"x":2.22,"y":4.45,"g":"u"},{"x":2.52,"y":4.43,"g":"u"},{"x":2.62,"y":4.52,"g":"u"},{"x":2.65,"y":4.55,"g":"u"},{"x":2.73,"y":4.53,"g":"u"},{"x":2.74,"y":4.48,"g":"u"},{"x":2.89,"y":4.35,"g":"u"},{"x":3.04,"y":4.24,"g":"u"},{"x":3.25,"y":4.21,"g":"u"},{"x":3.58,"y":4.09,"g":"u"},{"x":1.70,"y":4.11,"g":"u"},{"x":1.85,"y":4.14,"g":"u"},{"x":1.89,"y":4.21,"g":"u"},{"x":2.02,"y":4.21,"g":"u"},{"x":2.00,"y":4.16,"g":"u"},{"x":2.95,"y":4.11,"g":"u"},{"x":1.29,"y":4.01,"g":"u"},{"x":1.39,"y":3.89,"g":"u"},{"x":1.36,"y":3.75,"g":"u"},{"x":1.76,"y":3.72,"g":"u"},{"x":1.89,"y":3.79,"g":"u"},{"x":2.64,"y":3.96,"g":"u"},{"x":2.68,"y":4.01,"g":"u"},{"x":2.73,"y":3.87,"g":"u"},{"x":2.83,"y":3.79,"g":"u"},{"x":3.07,"y":3.96,"g":"u"},{"x":3.10,"y":3.80,"g":"u"},{"x":2.40,"y":3.84,"g":"u"},{"x":2.49,"y":3.73,"g":"u"},{"x":3.49,"y":3.94,"g":"u"},{"x":3.61,"y":3.85,"g":"u"},{"x":1.08,"y":3.70,"g":"u"},{"x":1.23,"y":3.65,"g":"u"},{"x":1.10,"y":3.46,"g":"u"},{"x":1.16,"y":3.45,"g":"u"},{"x":1.58,"y":3.56,"g":"u"},{"x":1.44,"y":3.38,"g":"u"},{"x":1.50,"y":3.45,"g":"u"},{"x":1.55,"y":3.34,"g":"u"},{"x":1.47,"y":3.21,"g":"u"},{"x":1.55,"y":3.21,"g":"u"},{"x":1.76,"y":3.43,"g":"u"},{"x":1.84,"y":3.43,"g":"u"},{"x":1.85,"y":3.34,"g":"u"},{"x":2.00,"y":3.56,"g":"u"},{"x":2.02,"y":3.65,"g":"u"},{"x":2.08,"y":3.56,"g":"u"},{"x":2.18,"y":3.53,"g":"u"},{"x":1.98,"y":3.21,"g":"u"},{"x":2.02,"y":3.29,"g":"u"},{"x":2.10,"y":3.45,"g":"u"},{"x":2.14,"y":3.38,"g":"u"},{"x":2.13,"y":3.22,"g":"u"},{"x":2.12,"y":3.07,"g":"u"},{"x":2.01,"y":3.05,"g":"u"},{"x":2.25,"y":3.39,"g":"u"},{"x":2.27,"y":3.29,"g":"u"},{"x":2.34,"y":3.56,"g":"u"},{"x":2.49,"y":3.56,"g":"u"},{"x":2.52,"y":3.34,"g":"u"},{"x":2.61,"y":3.33,"g":"u"},{"x":2.66,"y":3.33,"g":"u"},{"x":2.90,"y":3.21,"g":"u"},{"x":2.98,"y":3.34,"g":"u"},{"x":3.03,"y":3.22,"g":"u"},{"x":3.04,"y":3.55,"g":"u"},{"x":3.10,"y":3.12,"g":"u"},{"x":3.16,"y":3.04,"g":"u"},{"x":3.50,"y":3.16,"g":"u"},{"x":3.55,"y":3.14,"g":"u"},{"x":3.92,"y":3.62,"g":"u"},{"x":2.65,"y":3.11,"g":"u"},{"x":1.79,"y":3.11,"g":"u"},{"x":1.85,"y":3.00,"g":"u"},{"x":1.81,"y":2.92,"g":"u"},{"x":1.80,"y":2.82,"g":"u"},{"x":1.81,"y":2.71,"g":"u"},{"x":1.95,"y":2.88,"g":"u"},{"x":1.92,"y":2.78,"g":"u"},{"x":2.01,"y":2.77,"g":"u"},{"x":2.08,"y":2.92,"g":"u"},{"x":2.10,"y":2.82,"g":"u"},{"x":2.42,"y":3.07,"g":"u"},{"x":2.45,"y":3.02,"g":"u"},{"x":2.49,"y":3.00,"g":"u"},{"x":2.51,"y":2.92,"g":"u"},{"x":2.42,"y":2.87,"g":"u"},{"x":2.39,"y":2.82,"g":"u"},{"x":2.45,"y":2.77,"g":"u"},{"x":2.26,"y":2.90,"g":"u"},{"x":2.23,"y":2.75,"g":"u"},{"x":2.34,"y":2.71,"g":"u"},{"x":2.38,"y":2.78,"g":"u"},{"x":1.11,"y":2.82,"g":"u"},{"x":1.16,"y":2.83,"g":"u"},{"x":1.28,"y":2.82,"g":"u"},{"x":1.06,"y":2.65,"g":"u"},{"x":1.08,"y":2.53,"g":"u"},{"x":1.25,"y":2.60,"g":"u"},{"x":1.32,"y":2.51,"g":"u"},{"x":1.40,"y":2.51,"g":"u"},{"x":1.46,"y":2.66,"g":"u"},{"x":1.58,"y":2.60,"g":"u"},{"x":1.53,"y":2.43,"g":"u"},{"x":2.79,"y":2.78,"g":"u"},{"x":2.85,"y":2.85,"g":"u"},{"x":2.93,"y":2.82,"g":"u"},{"x":3.32,"y":2.77,"g":"u"},{"x":3.37,"y":2.75,"g":"u"},{"x":3.76,"y":2.77,"g":"u"},{"x":4.17,"y":2.75,"g":"u"},{"x":1.72,"y":2.58,"g":"u"},{"x":1.74,"y":2.48,"g":"u"},{"x":1.71,"y":2.37,"g":"u"},{"x":1.64,"y":2.39,"g":"u"},{"x":1.74,"y":2.24,"g":"u"},{"x":1.76,"y":2.34,"g":"u"},{"x":1.85,"y":2.60,"g":"u"},{"x":1.91,"y":2.48,"g":"u"},{"x":1.95,"y":2.61,"g":"u"},{"x":2.00,"y":2.56,"g":"u"},{"x":2.02,"y":2.65,"g":"u"},{"x":2.05,"y":2.56,"g":"u"},{"x":1.98,"y":2.51,"g":"u"},{"x":2.08,"y":2.46,"g":"u"},{"x":2.06,"y":2.37,"g":"u"},{"x":1.98,"y":2.41,"g":"u"},{"x":1.92,"y":2.51,"g":"u"},{"x":2.18,"y":2.63,"g":"u"},{"x":2.21,"y":2.53,"g":"u"},{"x":2.17,"y":2.43,"g":"u"},{"x":2.26,"y":2.37,"g":"u"},{"x":2.26,"y":2.24,"g":"u"},{"x":2.09,"y":2.26,"g":"u"},{"x":2.34,"y":2.61,"g":"u"},{"x":2.40,"y":2.63,"g":"u"},{"x":2.32,"y":2.53,"g":"u"},{"x":2.49,"y":2.43,"g":"u"},{"x":2.52,"y":2.39,"g":"u"},{"x":2.60,"y":2.37,"g":"u"},{"x":2.61,"y":2.31,"g":"u"},{"x":2.48,"y":2.27,"g":"u"},{"x":2.59,"y":2.54,"g":"u"},{"x":2.69,"y":2.58,"g":"u"},{"x":2.87,"y":2.58,"g":"u"},{"x":2.98,"y":2.58,"g":"u"},{"x":2.96,"y":2.51,"g":"u"},{"x":2.87,"y":2.37,"g":"u"},{"x":2.81,"y":2.27,"g":"u"},{"x":2.86,"y":2.26,"g":"u"},{"x":3.04,"y":2.36,"g":"u"},{"x":2.93,"y":2.20,"g":"u"},{"x":2.95,"y":2.10,"g":"u"},{"x":2.89,"y":2.14,"g":"u"},{"x":3.21,"y":2.39,"g":"u"},{"x":3.12,"y":2.19,"g":"u"},{"x":3.30,"y":2.56,"g":"u"},{"x":3.32,"y":2.49,"g":"u"},{"x":3.63,"y":2.44,"g":"u"},{"x":3.78,"y":2.41,"g":"u"},{"x":3.88,"y":2.43,"g":"u"},{"x":1.03,"y":2.12,"g":"u"},{"x":1.11,"y":2.27,"g":"u"},{"x":1.21,"y":2.03,"g":"u"},{"x":1.28,"y":2.02,"g":"u"},{"x":1.37,"y":2.36,"g":"u"},{"x":1.44,"y":2.31,"g":"u"},{"x":1.47,"y":2.20,"g":"u"},{"x":1.33,"y":2.26,"g":"u"},{"x":1.85,"y":2.26,"g":"u"},{"x":1.88,"y":2.10,"g":"u"},{"x":1.83,"y":2.03,"g":"u"},{"x":2.17,"y":2.29,"g":"u"},{"x":2.19,"y":2.12,"g":"u"},{"x":2.22,"y":2.03,"g":"u"},{"x":2.27,"y":2.03,"g":"u"},{"x":2.48,"y":2.15,"g":"u"},{"x":2.59,"y":2.22,"g":"u"},{"x":2.62,"y":2.27,"g":"u"},{"x":2.64,"y":2.15,"g":"u"},{"x":2.66,"y":2.07,"g":"u"},{"x":2.73,"y":2.32,"g":"u"},{"x":2.76,"y":1.98,"g":"u"},{"x":1.72,"y":1.97,"g":"u"},{"x":3.62,"y":2.05,"g":"u"},{"x":4.65,"y":1.95,"g":"u"},{"x":1.66,"y":1.71,"g":"u"}
]},
"layer":[
{"data":{"name":"pts"},
"mark":{"type":"circle","strokeWidth":0},
"encoding":{
"x":{"field":"x","type":"quantitative","scale":{"domain":[-7,7],"nice":false,"zero":false},"axis":{"values":[-6,-4,-2,0,2,4,6],"format":"d","title":"Log₂ Fold Change (Treatment vs Control)","titlePadding":10}},
"y":{"field":"y","type":"quantitative","scale":{"domain":[-0.5,12.63],"nice":false,"zero":false},"axis":{"values":[0,2,4,6,8,10,12],"format":"d","title":"-Log₁₀ Adjusted p-value","titlePadding":8}},
"color":{"field":"g","type":"nominal","scale":{"domain":["n","d","u"],"range":["#8a92a1","#2166ac","#d62728"]},
"legend":{"orient":"none","legendX":31,"legendY":18,"title":null,"labelFontSize":20,"labelOffset":22,"rowPadding":9.5,"padding":0,"symbolStrokeWidth":0,"labelLimit":500,"labelExpr":"datum.value == 'n' ? 'Not significant (n=14,540)' : datum.value == 'd' ? 'Down-regulated (n=202)' : 'Up-regulated (n=258)'"}},
"size":{"field":"g","type":"nominal","scale":{"domain":["n","d","u"],"range":[28,62,62]}},
"opacity":{"field":"g","type":"nominal","scale":{"domain":["n","d","u"],"range":[0.45,0.8,0.8]}}
}},
{"data":{"values":[{"x":-1},{"x":1}]},
"mark":{"type":"rule","color":"#555555","strokeWidth":1.4,"strokeDash":[6,3.5]},
"encoding":{"x":{"field":"x","type":"quantitative"}}},
{"data":{"values":[{"y":1.301}]},
"mark":{"type":"rule","color":"#555555","strokeWidth":1.4,"strokeDash":[6,3.5]},
"encoding":{"y":{"field":"y","type":"quantitative"}}},
{"data":{"values":[{"x":6.86,"y":1.6,"t":"FDR = 0.05"}]},
"mark":{"type":"text","align":"right","baseline":"alphabetic","fontSize":16.5,"color":"#808080","font":"DejaVu Sans"},
"encoding":{"x":{"field":"x","type":"quantitative"},"y":{"field":"y","type":"quantitative"},"text":{"field":"t"}}},
{"data":{"name":"labD"},
"mark":{"type":"text","align":"left","baseline":"middle","fontSize":15.5,"fontWeight":"bold","font":"DejaVu Sans","color":"#2166ac"},
"encoding":{"x":{"field":"x","type":"quantitative"},"y":{"field":"y","type":"quantitative"},"text":{"field":"gene"}}},
{"data":{"name":"labU"},
"mark":{"type":"text","align":"left","baseline":"middle","fontSize":15.5,"fontWeight":"bold","font":"DejaVu Sans","color":"#d62728"},
"encoding":{"x":{"field":"x","type":"quantitative"},"y":{"field":"y","type":"quantitative"},"text":{"field":"gene"}}}
]
}
